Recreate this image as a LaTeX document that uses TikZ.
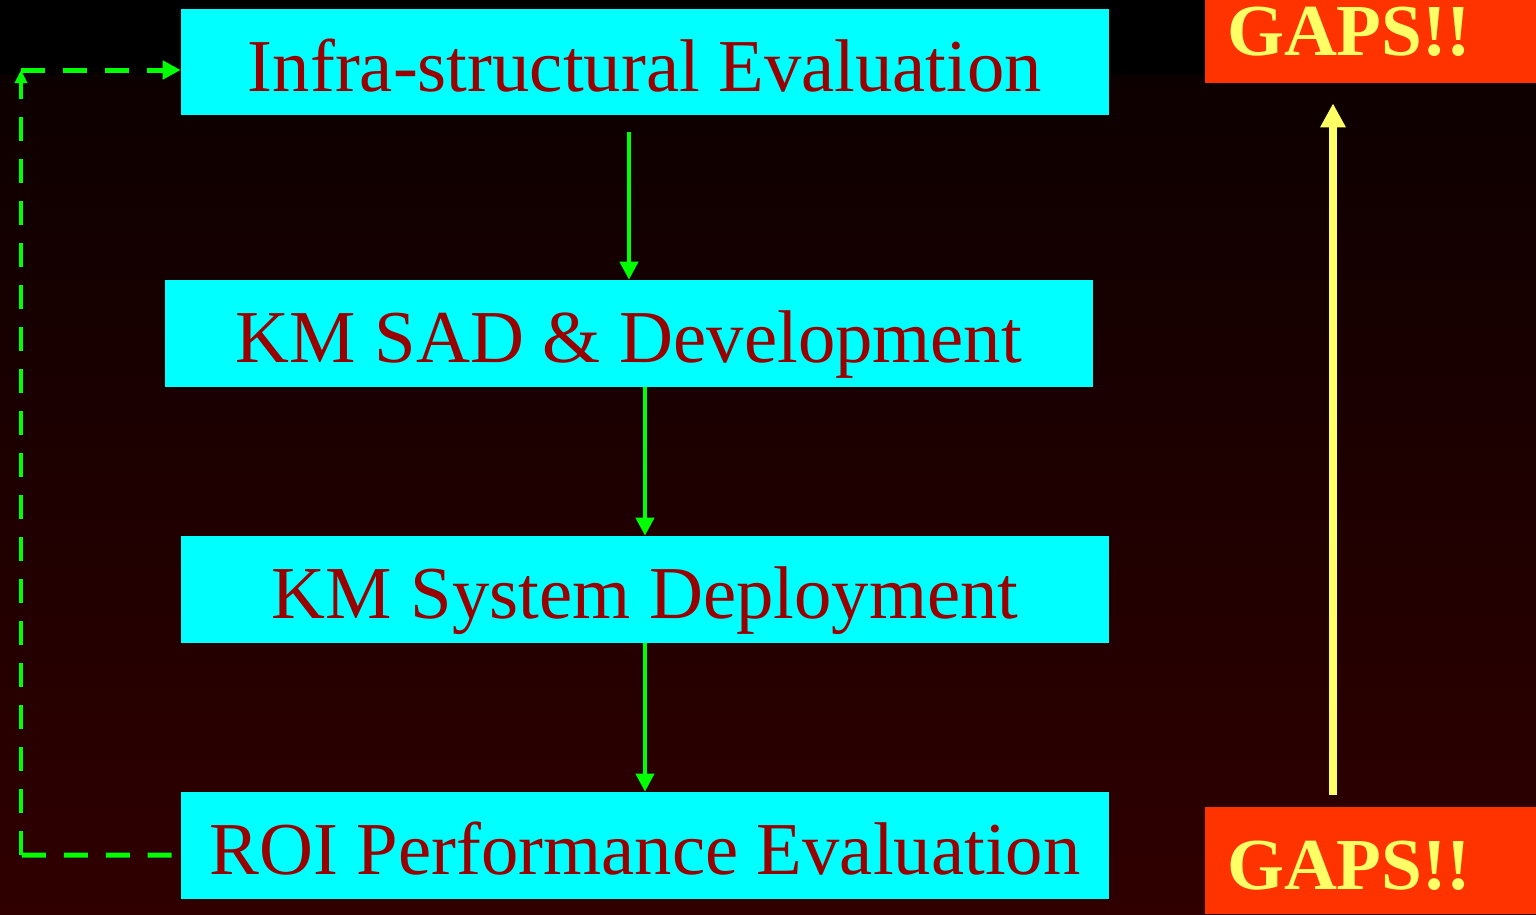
\documentclass[tikz,border=0pt]{standalone}
\usepackage{fontspec}
\setmainfont{Liberation Serif}
\usetikzlibrary{arrows.meta}
\usetikzlibrary{calc}

\definecolor{boxcyan}{HTML}{00FFFF}
\definecolor{boxtext}{HTML}{990000}
\definecolor{gapred}{HTML}{FF3300}
\definecolor{gapyellow}{HTML}{FFFF66}
\definecolor{flowgreen}{HTML}{00FF00}
\definecolor{bgtop}{HTML}{0D0000}
\definecolor{bgbottom}{HTML}{300000}

\tikzset{
	stage/.style={fill=boxcyan, text=boxtext, minimum width=18.56cm, minimum height=2.14cm,
		inner sep=0pt, text height=42.5pt, text depth=9.4pt, font=\fontsize{42.5}{46}\selectfont},
	gaps/.style={fill=gapred, text=gapyellow, minimum height=2.14cm, text width=5.74cm,
		inner xsep=0.44cm, inner ysep=0pt, align=left, text height=41.7pt, text depth=9.2pt,
		font=\fontsize{41.7}{46}\selectfont\bfseries},
	flow/.style={draw=flowgreen, line width=0.08cm, -{Triangle[length=0.36cm,width=0.36cm]}},
	loopback/.style={draw=flowgreen, line width=0.1cm, dash pattern=on 0.48cm off 0.36cm},
	rise/.style={draw=gapyellow, line width=0.16cm, -{Triangle[length=0.48cm,width=0.48cm]}}
}

\begin{document}
\begin{tikzpicture}[x=0.02cm, y=-0.02cm]
	\useasboundingbox (0,0) rectangle (1536,914);
	\clip (0,0) rectangle (1536,914);
	% backdrop
	\fill[black] (0,0) rectangle (1536,75);
	\shade[top color=bgtop, bottom color=bgbottom] (0,75) rectangle (1536,914);

	% the four stages
	\node[stage] (infra) at (645,62) {Infra-structural Evaluation};
	\node[stage] (sad) at (629,333.5) {KM SAD \& Development};
	\node[stage] (deploy) at (645,589.5) {KM System Deployment};
	\node[stage] (roi) at (645,845.5) {ROI Performance Evaluation};

	\node[gaps, text depth=12pt] (gapstop) at (1370.5,29.5) {GAPS!!};
	\node[gaps] (gapsbot) at (1370.5,860.5) {GAPS!!};

	\draw[flow, shorten <=0.32cm] (infra.south -| sad.north) -- (sad.north);
	\draw[flow] (sad.south -| deploy.north) -- (deploy.north);
	\draw[flow] (deploy.south) -- (roi.north);

	% feedback loop
	\coordinate (lowc) at (21,855);
	\coordinate (highc) at (21,70);
	\draw[loopback] ($(roi.west)+(-9,9.5)$) -- (lowc);
	\draw[loopback, -{Triangle[length=0.26cm,width=0.24cm]}] (lowc) -- (highc);
	\draw[loopback, -{Triangle[length=0.36cm,width=0.36cm]}] (highc) -- (infra.west |- highc);

	\draw[rise, shorten <=0.24cm, shorten >=0.4cm] (gapsbot.north -| 1333,0) -- (gapstop.south -| 1333,0);
\end{tikzpicture}
\end{document}
